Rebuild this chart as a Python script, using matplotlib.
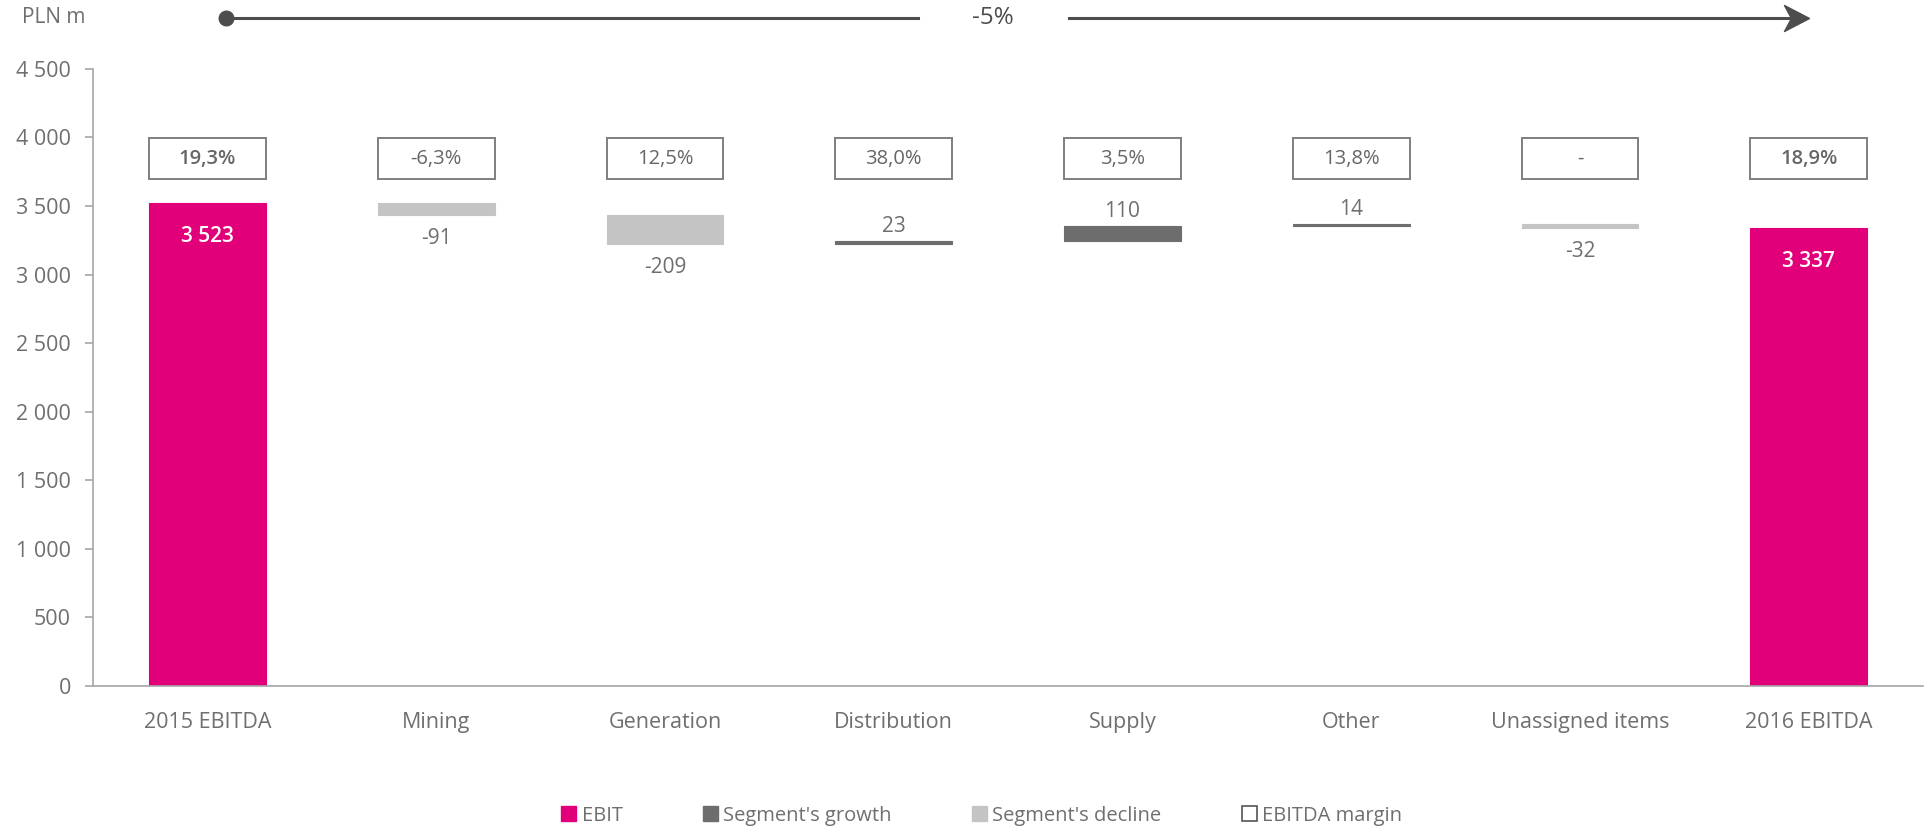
import matplotlib.pyplot as plt
import matplotlib.transforms as mtransforms
from matplotlib.patches import Patch, Rectangle
from matplotlib.path import Path
import numpy as np

plt.rcParams['font.family'] = ['Open Sans', 'DejaVu Sans']

categories = ["2015 EBITDA", "Mining", "Generation", "Distribution",
              "Supply", "Other", "Unassigned items", "2016 EBITDA"]
values = [3523, -91, -209, 23, 110, 14, -32, 3337]
margins = ["19,3%", "-6,3%", "12,5%", "38,0%", "3,5%", "13,8%", "-", "18,9%"]
totals = [True, False, False, False, False, False, False, True]

PINK = "#e2007a"
GROWTH = "#6d6d6d"
DECLINE = "#c4c4c4"
TEXT = "#6f6f6f"
AXIS = "#a6a6a6"
DARK = "#4d4d4d"


def fmt(v):
    return "{:,}".format(v).replace(",", " ")


# waterfall bottoms
bottoms = []
heights = []
colors = []
level = 0
for v, is_total in zip(values, totals):
    if is_total:
        bottoms.append(0)
        heights.append(v)
        colors.append(PINK)
        level = v
    else:
        bottoms.append(level + min(v, 0))
        heights.append(abs(v))
        colors.append(GROWTH if v > 0 else DECLINE)
        level += v

fig = plt.figure(figsize=(19.27, 8.30), dpi=100)
ax = fig.add_axes([0.0483, 0.1735, 0.9497, 0.7436])

x = np.arange(len(categories))
width = 0.51
ax.bar(x, heights, bottom=bottoms, width=width, color=colors, edgecolor=colors, linewidth=0.8)

# value labels
for i, (v, b, h, is_total) in enumerate(zip(values, bottoms, heights, totals)):
    if is_total:
        ax.annotate(fmt(v), (i, b + h), xytext=(0, -24), textcoords="offset points",
                    ha="center", va="center", color="white", fontsize=15, fontweight="semibold")
    elif v < 0:
        ax.annotate(fmt(v), (i, b), xytext=(0, -17), textcoords="offset points",
                    ha="center", va="center", color=TEXT, fontsize=15)
    else:
        ax.annotate(fmt(v), (i, b + h), xytext=(0, 10), textcoords="offset points",
                    ha="center", va="center", color=TEXT, fontsize=15)

# margin boxes
box_lo, box_hi = 3695, 3995
for i, (m, is_total) in enumerate(zip(margins, totals)):
    ax.add_patch(Rectangle((i - width / 2, box_lo), width, box_hi - box_lo,
                           facecolor="white", edgecolor="#7f7f7f", linewidth=1.4, zorder=3))
    ax.text(i, (box_lo + box_hi) / 2, m, ha="center", va="center", color="#666666",
            fontsize=14.5, fontweight="semibold" if is_total else "normal", zorder=4)

ax.set_xlim(-0.5, len(categories) - 0.5)
ax.set_ylim(0, 4500)
ax.set_yticks(np.arange(0, 4501, 500))
ax.set_yticklabels([fmt(t) for t in range(0, 4501, 500)])
ax.set_xticks(x)
ax.set_xticklabels(categories)
ax.spines[["top", "right"]].set_visible(False)
for s in ["left", "bottom"]:
    ax.spines[s].set_color(AXIS)
    ax.spines[s].set_linewidth(1.2)
ax.tick_params(axis="y", length=6, width=1.2, color=AXIS, labelcolor=TEXT, labelsize=15.5, pad=10)
ax.tick_params(axis="x", length=0, labelcolor=TEXT, labelsize=15.5, pad=19)

# overall change arrow
change = round((values[-1] / values[0] - 1) * 100)
trans = mtransforms.blended_transform_factory(ax.transData, ax.transAxes)
y_arrow = 1.082
head = Path([(0, 0), (-1, 0.52), (-0.72, 0), (-1, -0.52), (0, 0)],
            [Path.MOVETO, Path.LINETO, Path.LINETO, Path.LINETO, Path.CLOSEPOLY])
ax.plot([0.081, 3.105], [y_arrow, y_arrow], color=DARK, lw=2.2, transform=trans, clip_on=False)
ax.plot([3.765, 6.93], [y_arrow, y_arrow], color=DARK, lw=2.2, transform=trans, clip_on=False)
ax.plot([0.081], [y_arrow], "o", color=DARK, ms=10.5, transform=trans, clip_on=False)
ax.plot([7.0], [y_arrow], marker=head, color=DARK, ms=36, lw=0, transform=trans, clip_on=False)
ax.text(3.433, y_arrow, f"{change}%", transform=trans, ha="center", va="center",
        color=DARK, fontsize=17.5)

fig.text(0.0114, 0.979, "PLN m", ha="left", va="center", color=TEXT, fontsize=15)

handles = [Patch(facecolor=PINK, edgecolor=PINK),
           Patch(facecolor=GROWTH, edgecolor=GROWTH),
           Patch(facecolor=DECLINE, edgecolor=DECLINE),
           Patch(facecolor="white", edgecolor="#555555", linewidth=1.2)]
labels = ["EBIT", "Segment's growth", "Segment's decline", "EBITDA margin"]
fig.legend(handles, labels, loc="center", bbox_to_anchor=(0.5095, 0.017), ncol=4, frameon=False,
           handlelength=0.75, handleheight=0.75, handletextpad=0.25, columnspacing=4.0,
           labelcolor=TEXT, fontsize=14.5)

fig.savefig("out.png", dpi=100)
